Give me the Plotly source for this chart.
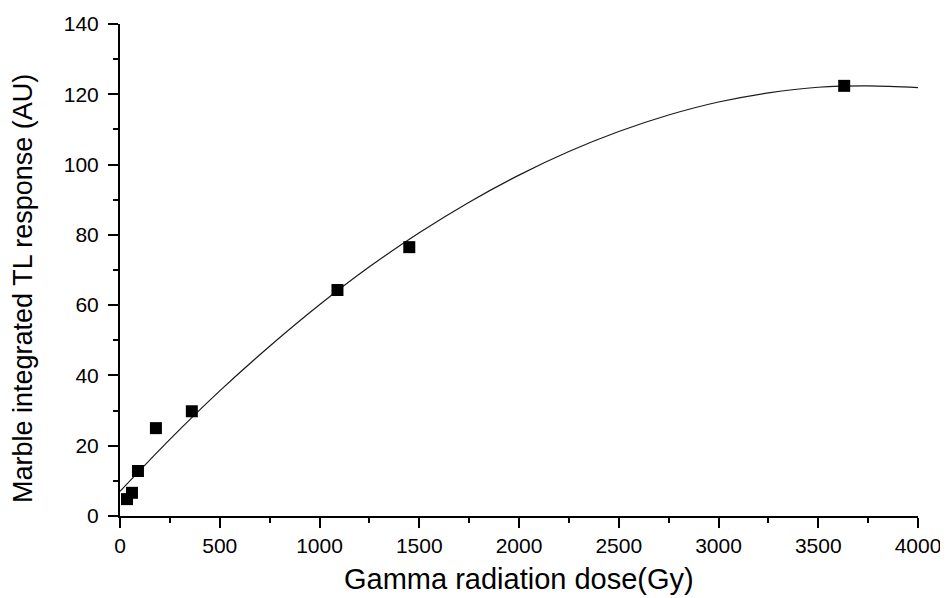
import plotly.graph_objects as go

# Measured data points (dose in Gy, integrated TL response in AU)
dose = [35, 60, 90, 180, 360, 1090, 1450, 3630]
tl_response = [4.8, 6.6, 12.8, 25.0, 29.8, 64.3, 76.5, 122.4]

# Fitted curve, points
fit_dose = [0, 250, 500, 750, 1000, 1250, 1500, 1750, 2000, 2250, 2500,
            2750, 3000, 3250, 3500, 3750, 4000]
fit_tl = [7.0, 21.8, 35.6, 48.3, 60.1, 70.9, 80.6, 89.3, 97.0, 103.7, 109.4,
          114.1, 117.8, 120.4, 122.0, 122.4, 121.9]

x_ticks = [0, 500, 1000, 1500, 2000, 2500, 3000, 3500, 4000]
y_ticks = [0, 20, 40, 60, 80, 100, 120, 140]

FONT = "Liberation Sans, Arial, sans-serif"

fig = go.Figure()
fig.add_trace(go.Scatter(x=fit_dose, y=fit_tl, mode="lines",
                         line=dict(color="#1a1a1a", width=1.2, shape="spline"),
                         showlegend=False, hoverinfo="skip"))
fig.add_trace(go.Scatter(x=dose, y=tl_response, mode="markers",
                         marker=dict(symbol="square", size=12, color="black"),
                         showlegend=False, cliponaxis=False))

axis_common = dict(showline=True, linecolor="black", linewidth=2,
                   ticks="outside", ticklen=10, tickwidth=2, tickcolor="black",
                   showgrid=False, zeroline=False, mirror=False,
                   automargin=False,
                   tickfont=dict(family=FONT, size=21, color="black"))

fig.update_xaxes(range=[0, 4000], tickmode="array", tickvals=x_ticks,
                 ticktext=[str(v) for v in x_ticks],
                 minor=dict(dtick=250, tick0=0, ticks="outside", ticklen=5,
                            tickwidth=2, tickcolor="black", showgrid=False),
                 **axis_common)
fig.update_yaxes(range=[0, 140], tickmode="array", tickvals=y_ticks,
                 ticktext=[str(v) for v in y_ticks],
                 ticklabelstandoff=5,
                 minor=dict(dtick=10, tick0=0, ticks="outside", ticklen=5,
                            tickwidth=2, tickcolor="black", showgrid=False),
                 **axis_common)

fig.add_annotation(text="Gamma radiation dose(Gy)",
                   xref="paper", yref="paper",
                   x=0.5, y=-63 / 492,
                   xanchor="center", yanchor="middle",
                   showarrow=False,
                   font=dict(family=FONT, size=29, color="black"))
fig.add_annotation(text="Marble integrated TL response (AU)",
                   xref="paper", yref="paper",
                   x=(23 - 120) / 798, y=(516 - 289) / 492,
                   xanchor="center", yanchor="middle", textangle=-90,
                   showarrow=False,
                   font=dict(family=FONT, size=27, color="black"))

# page body adds an 8px offset, so the figure is sized/margined to compensate
fig.update_layout(width=940, height=590,
                  margin=dict(l=112, r=30, t=16, b=82, autoexpand=False),
                  paper_bgcolor="white", plot_bgcolor="white")

fig.write_html("out.html")
